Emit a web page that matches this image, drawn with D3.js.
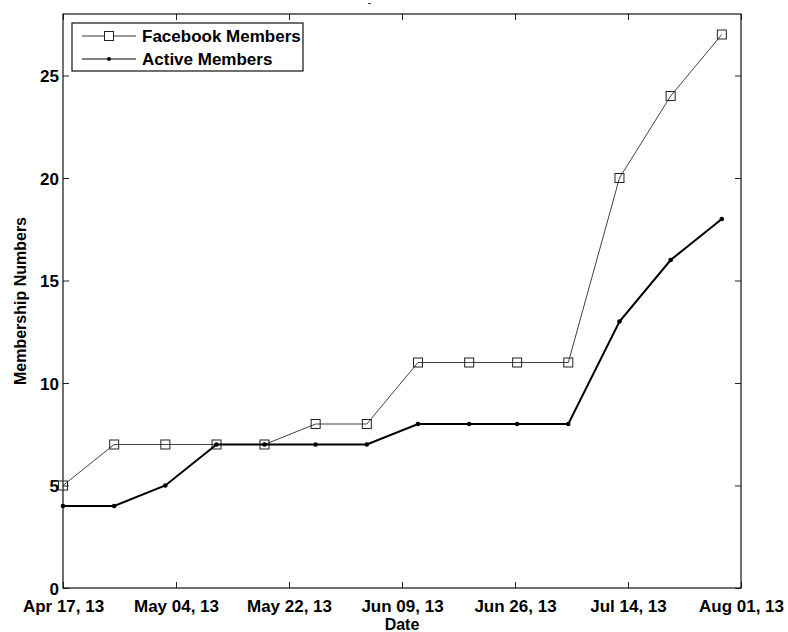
<!DOCTYPE html>
<html>
<head>
<meta charset="utf-8">
<script src="https://cdn.jsdelivr.net/npm/d3@7"></script>
<style>
  body { margin: 0; background: #fff; }
  text { font-family: "Liberation Sans", Arial, sans-serif; font-weight: bold; fill: #000; }
</style>
</head>
<body>
<div class="canvas"></div>
<script>
// data
const dates = ['2013-04-17 00', '2013-04-25 00', '2013-05-03 00', '2013-05-11 00',
  '2013-05-18 12', '2013-05-26 12', '2013-06-03 12', '2013-06-11 12', '2013-06-19 12',
  '2013-06-27 00', '2013-07-05 00', '2013-07-13 00', '2013-07-21 00', '2013-07-29 00'];
const facebookMembers = [5, 7, 7, 7, 7, 8, 8, 11, 11, 11, 11, 20, 24, 27];
const activeMembers = [4, 4, 5, 7, 7, 7, 7, 8, 8, 8, 8, 13, 16, 18];
const yTicks = [0, 5, 10, 15, 20, 25];
const seriesNames = ['Facebook Members', 'Active Members'];

const width = 788, height = 632;
const margin = {top: 14, right: 47, bottom: 44, left: 63};
const graphWidth = width - margin.left - margin.right;
const graphHeight = height - margin.top - margin.bottom;

const parse = d3.utcParse('%Y-%m-%d %H');
const t0 = parse('2013-04-17 00'), t1 = parse('2013-08-01 00');
// matlab datetick style: 7 evenly spaced ticks over the limits
const xTicks = d3.range(7).map(i => new Date(+t0 + i * (t1 - t0) / 6));

const svg = d3.select('.canvas')
  .append('svg')
    .attr('width', width)
    .attr('height', height);

// leftover of a clipped title at the very top
svg.append('line')
  .attr('x1', 368).attr('x2', 371)
  .attr('y1', 3.5).attr('y2', 3.5)
  .attr('stroke', '#333');

const graph = svg.append('g')
  .attr('transform', `translate(${margin.left},${margin.top})`);

const x = d3.scaleUtc().domain([t0, t1]).range([0, graphWidth]);
const y = d3.scaleLinear().domain([0, 28]).range([graphHeight, 0]);

const fmt = d3.utcFormat('%b %d, %y');

// axes, ticks pointing inward
const xAxis = graph.append('g')
  .attr('transform', `translate(0,${graphHeight})`)
  .call(d3.axisBottom(x).tickValues(xTicks).tickFormat(fmt).tickSizeInner(-6).tickSizeOuter(0).tickPadding(12));
const xTop = graph.append('g')
  .call(d3.axisTop(x).tickValues(xTicks).tickFormat('').tickSizeInner(-6).tickSizeOuter(0));
const yAxis = graph.append('g')
  .call(d3.axisLeft(y).tickValues(yTicks).tickSizeInner(-6).tickSizeOuter(0).tickPadding(4));
const yRight = graph.append('g')
  .attr('transform', `translate(${graphWidth},0)`)
  .call(d3.axisRight(y).tickValues(yTicks).tickFormat('').tickSizeInner(-6).tickSizeOuter(0));

[xAxis, xTop, yAxis, yRight].forEach(a => {
  a.select('.domain').remove();
  a.selectAll('line').attr('stroke', '#222');
  a.selectAll('text').style('font-size', '17px').style('font-family', '"Liberation Sans", Arial, sans-serif');
});
yAxis.selectAll('text').attr('dy', '0.36em');

graph.append('rect')
  .attr('width', graphWidth)
  .attr('height', graphHeight)
  .attr('fill', 'none')
  .attr('stroke', '#111')
  .attr('stroke-width', 1.2);

const pts = (vals) => vals.map((v, i) => ({date: parse(dates[i]), value: v}));
const line = d3.line().x(d => x(d.date)).y(d => y(d.value));

// facebook members: thin line, hollow squares
graph.append('path')
  .datum(pts(facebookMembers))
  .attr('d', line)
  .attr('fill', 'none')
  .attr('stroke', '#111')
  .attr('stroke-width', 0.8);

graph.selectAll('.sq')
  .data(pts(facebookMembers))
  .enter().append('rect')
    .attr('class', 'sq')
    .attr('x', d => x(d.date) - 4.5)
    .attr('y', d => y(d.value) - 4.5)
    .attr('width', 9)
    .attr('height', 9)
    .attr('fill', 'none')
    .attr('stroke', '#222')
    .attr('stroke-width', 1);

// active members: thick line, dots
graph.append('path')
  .datum(pts(activeMembers))
  .attr('d', line)
  .attr('fill', 'none')
  .attr('stroke', '#000')
  .attr('stroke-width', 2);

graph.selectAll('.dot')
  .data(pts(activeMembers))
  .enter().append('circle')
    .attr('class', 'dot')
    .attr('cx', d => x(d.date))
    .attr('cy', d => y(d.value))
    .attr('r', 2.3)
    .attr('fill', '#000');

// axis titles
svg.append('text')
  .attr('x', margin.left + graphWidth / 2)
  .attr('y', 630)
  .attr('text-anchor', 'middle')
  .style('font-size', '16px')
  .text('Date');

svg.append('text')
  .attr('transform', `translate(26,${margin.top + graphHeight / 2}) rotate(-90)`)
  .attr('text-anchor', 'middle')
  .style('font-size', '16px')
  .text('Membership Numbers');

// legend
const legend = svg.append('g').attr('transform', 'translate(72,23)');
legend.append('rect')
  .attr('width', 231)
  .attr('height', 48)
  .attr('fill', '#fff')
  .attr('stroke', '#111')
  .attr('stroke-width', 1.2);

seriesNames.forEach((name, i) => {
  const cy = 13 + i * 23;
  legend.append('line')
    .attr('x1', 10).attr('x2', 64)
    .attr('y1', cy).attr('y2', cy)
    .attr('stroke', '#000')
    .attr('stroke-width', i === 0 ? 0.8 : 1);
  if (i === 0) {
    legend.append('rect')
      .attr('x', 37 - 4.5).attr('y', cy - 4.5)
      .attr('width', 9).attr('height', 9)
      .attr('fill', '#fff').attr('stroke', '#222');
  } else {
    legend.append('circle').attr('cx', 37).attr('cy', cy).attr('r', 2).attr('fill', '#000');
  }
  legend.append('text')
    .attr('x', 70)
    .attr('y', cy + 6)
    .style('font-size', '17px')
    .text(name);
});
</script>
</body>
</html>
